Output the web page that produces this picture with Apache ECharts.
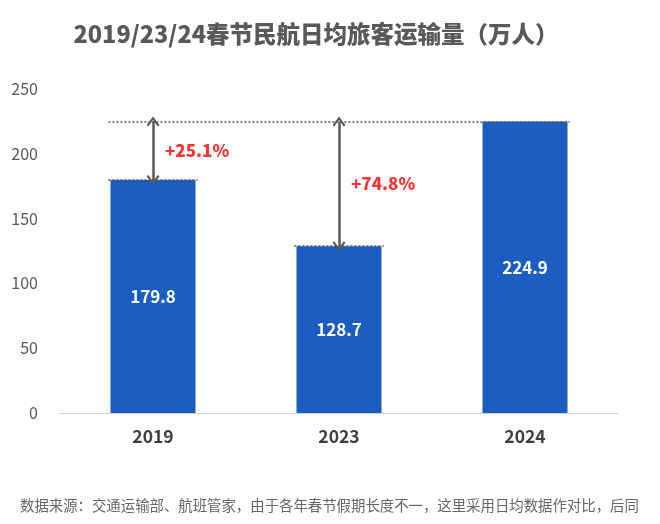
<!DOCTYPE html>
<html><head><meta charset="utf-8">
<script src="https://cdn.jsdelivr.net/npm/echarts@6/dist/echarts.min.js"></script>
<style>html,body{margin:0;padding:0;background:#fff}#c{width:660px;height:524px}</style>
</head><body><div id="c"></div>
<script>
var categories = ['2019', '2023', '2024'];
var values = [179.8, 128.7, 224.9];
var growthLabels = ['+25.1%', '+74.8%'];
var yTicks = [0, 50, 100, 150, 200, 250];

var FONT = '"Noto Sans CJK SC","Noto Sans",sans-serif';
var peakVal = values[2];
var half = 0.24;
var chevron = 'path://M0,9 L6,0 L12,9 L10.4,10.2 L6,3.6 L1.6,10.2 Z';

var chart = echarts.init(document.getElementById('c'));
chart.setOption({
  animation: false,
  title: {
    text: '2019/23/24春节民航日均旅客运输量（万人）',
    left: 311, top: 17, textAlign: 'center',
    textStyle: {fontFamily: FONT, fontSize: 23.5, fontWeight: 900, color: '#595959'}
  },
  graphic: [{
    type: 'text', left: 20, top: 498,
    style: {text: '数据来源：交通运输部、航班管家，由于各年春节假期长度不一，这里采用日均数据作对比，后同',
      fontFamily: FONT, fontSize: 14.4, fill: '#666'}
  }],
  grid: {left: 60, right: 42, top: 89, bottom: 111},
  xAxis: [{
    type: 'category', data: categories,
    axisLine: {lineStyle: {color: '#d0d0d0'}},
    axisTick: {show: false},
    axisLabel: {fontFamily: FONT, fontSize: 17.5, fontWeight: 'bold', color: '#404040', margin: 15}
  }, {
    type: 'value', min: -0.5, max: 2.5, show: false
  }],
  yAxis: {
    type: 'value', min: yTicks[0], max: yTicks[yTicks.length - 1], interval: 50,
    splitLine: {show: false},
    axisLine: {show: false}, axisTick: {show: false},
    axisLabel: {fontFamily: FONT, fontSize: 16, color: '#595959', margin: 22}
  },
  series: [{
    type: 'bar', data: values, barWidth: '45.7%',
    itemStyle: {color: '#1B5DC0'},
    label: {show: true, position: 'inside', fontFamily: FONT, fontSize: 17,
      fontWeight: 'bold', color: '#fff'}
  }, {
    type: 'scatter', xAxisIndex: 1, symbolSize: 0,
    data: [[0, (peakVal + values[0]) / 2], [1, (peakVal + values[1]) / 2]],
    label: {show: true, position: 'right', distance: 12,
      formatter: function (p) { return growthLabels[p.dataIndex]; },
      fontFamily: FONT, fontSize: 17, fontWeight: 900, color: '#FF0000'},
    markLine: {
      silent: true, animation: false,
      label: {show: false},
      data: [
        [{coord: [-half, peakVal], symbol: 'none', lineStyle: {type: [2, 2], color: '#555', width: 1.5}},
         {coord: [2 + half, peakVal], symbol: 'none'}],
        [{coord: [-half, values[0]], symbol: 'none', lineStyle: {type: [2, 2], color: '#555', width: 1.5}},
         {coord: [half, values[0]], symbol: 'none'}],
        [{coord: [1 - half, values[1]], symbol: 'none', lineStyle: {type: [2, 2], color: '#555', width: 1.5}},
         {coord: [1 + half, values[1]], symbol: 'none'}],
        [{coord: [0, peakVal], symbol: chevron, symbolSize: [13, 10], lineStyle: {type: 'solid', color: '#595959', width: 2.5}},
         {coord: [0, values[0]], symbol: chevron, symbolSize: [13, 10]}],
        [{coord: [1, peakVal], symbol: chevron, symbolSize: [13, 10], lineStyle: {type: 'solid', color: '#595959', width: 2.5}},
         {coord: [1, values[1]], symbol: chevron, symbolSize: [13, 10]}]
      ],
      itemStyle: {color: '#595959'}
    }
  }]
});
</script></body></html>
